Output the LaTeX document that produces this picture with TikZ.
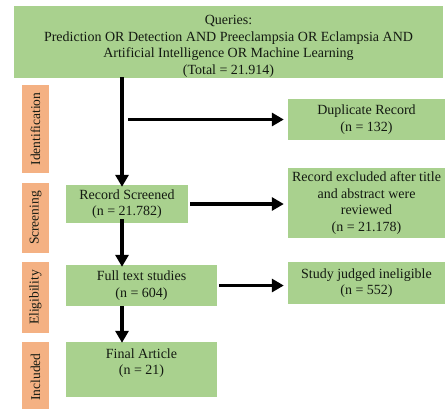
\documentclass[tikz,border=0pt]{standalone}
\usepackage{fontspec}
\setmainfont{Liberation Serif}
\usetikzlibrary{arrows.meta}
\definecolor{boxgreen}{HTML}{A9D18E}
\definecolor{stagepink}{HTML}{F4B183}
\definecolor{inktext}{HTML}{141A12}
\begin{document}
\begin{tikzpicture}[x=1pt,y=-1pt,
	box/.style={fill=boxgreen,text=inktext,align=center,inner sep=1pt,font=\fontsize{14}{16.5}\selectfont},
	sidebox/.style={box,minimum width=157pt},
	stage/.style={fill=stagepink,text=inktext,rotate=90,inner sep=0pt,minimum height=27pt,font=\fontsize{13.5}{16}\selectfont},
	flow/.style={line width=3.8pt,-{Triangle[width=13pt,length=12pt]}}]
	\useasboundingbox (0,0) rectangle (446,408);
	\node[box,minimum width=429pt,minimum height=70pt,text height=67pt] (query) at (228.5,42)
		{Queries:\\Prediction OR Detection AND Preeclampsia OR Eclampsia AND\\Artificial Intelligence OR Machine Learning\\(Total = 21.914)};
	\node[stage,minimum width=88pt] (ident) at (35.5,129) {Identification};
	\node[stage,minimum width=70pt] (screen) at (35.5,218) {Screening};
	\node[stage,minimum width=71pt] (elig) at (35.5,297.5) {Eligibility};
	\node[stage,minimum width=70pt] (incl) at (35.5,377) {Included};
	\node[sidebox,minimum height=41pt] (dup) at (366.5,119.5) {Duplicate Record\\(n = 132)};
	\node[box,minimum width=122pt,minimum height=38pt] (screened) at (127,204) {Record Screened\\(n = 21.782)};
	\node[sidebox,minimum height=70pt] (excluded) at (366.5,203) {Record excluded after title\\and abstract were\\reviewed\\(n = 21.178)};
	\node[box,minimum width=151pt,minimum height=41pt] (fulltext) at (141.5,285.5) {Full text studies\\(n = 604)};
	\node[sidebox,minimum height=42pt] (inelig) at (366.5,283) {Study judged ineligible\\(n = 552)};
	\node[box,minimum width=151pt,minimum height=55pt,text depth=16pt] (final) at (141.5,369.5) {Final Article\\(n = 21)};
	\coordinate (trunk) at (122,77);
	\draw[flow] (trunk) -- ([yshift=-2pt]trunk |- screened.north);
	\draw[flow] ([xshift=6pt]trunk |- dup.west) -- ([xshift=-4pt]dup.west);
	\draw[flow] ([xshift=2pt]screened.east) -- ([xshift=-4pt]screened.east -| excluded.west);
	\draw[flow] ([yshift=4pt]trunk |- screened.south) -- ([yshift=-2pt]trunk |- fulltext.north);
	\draw[flow] ([xshift=2pt]fulltext.east) -- ([xshift=-4pt]fulltext.east -| inelig.west);
	\draw[flow] (trunk |- fulltext.south) -- ([yshift=-1pt]trunk |- final.north);
\end{tikzpicture}
\end{document}
